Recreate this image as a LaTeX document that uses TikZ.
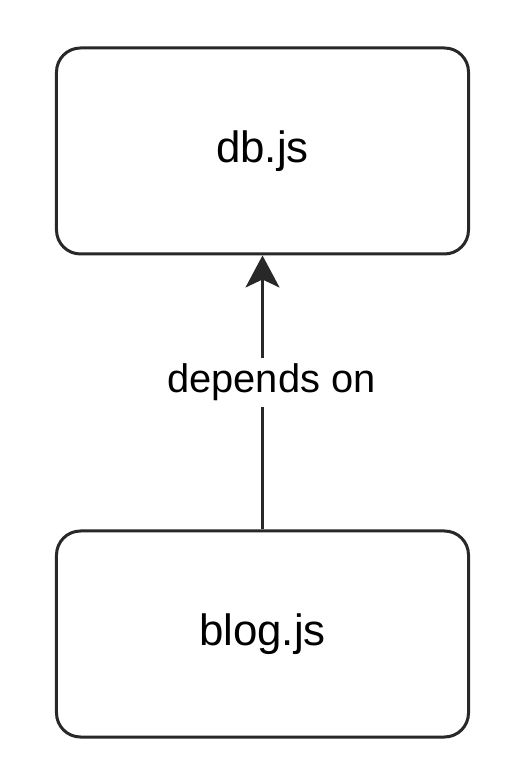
\documentclass[tikz,border=0pt]{standalone}
\usepackage{fontspec}
\setmainfont{Liberation Sans}
\usetikzlibrary{arrows.meta, positioning}
\definecolor{linec}{RGB}{40,40,40}
\definecolor{inkc}{RGB}{0,0,0}
\tikzset{
  module/.style={
    rectangle, rounded corners=24bp, draw=linec, line width=3bp,
    fill=white, minimum width=412bp, minimum height=206bp,
    font=\fontsize{44}{50}\selectfont, text=inkc
  },
  dep/.style={-{Stealth[length=32bp, width=34bp, inset=8bp]}, line width=2.6bp, draw=linec},
  lbl/.style={font=\fontsize{40}{46}\selectfont, text=inkc, fill=white, inner sep=6bp},
}
\begin{document}
\begin{tikzpicture}[x=1bp, y=1bp]

  \fill[white] (0,0) rectangle (525,782);
  \useasboundingbox (0,0) rectangle (525,782);

  \node[module] (db) at (262.5,631) {db.js};
  \node[module] (blog) at (262.5,148) {blog.js};

  \draw[dep] (blog.north) -- node[lbl, pos=0.5, anchor=base, xshift=9bp]{depends on} (db.south);

\end{tikzpicture}
\end{document}
